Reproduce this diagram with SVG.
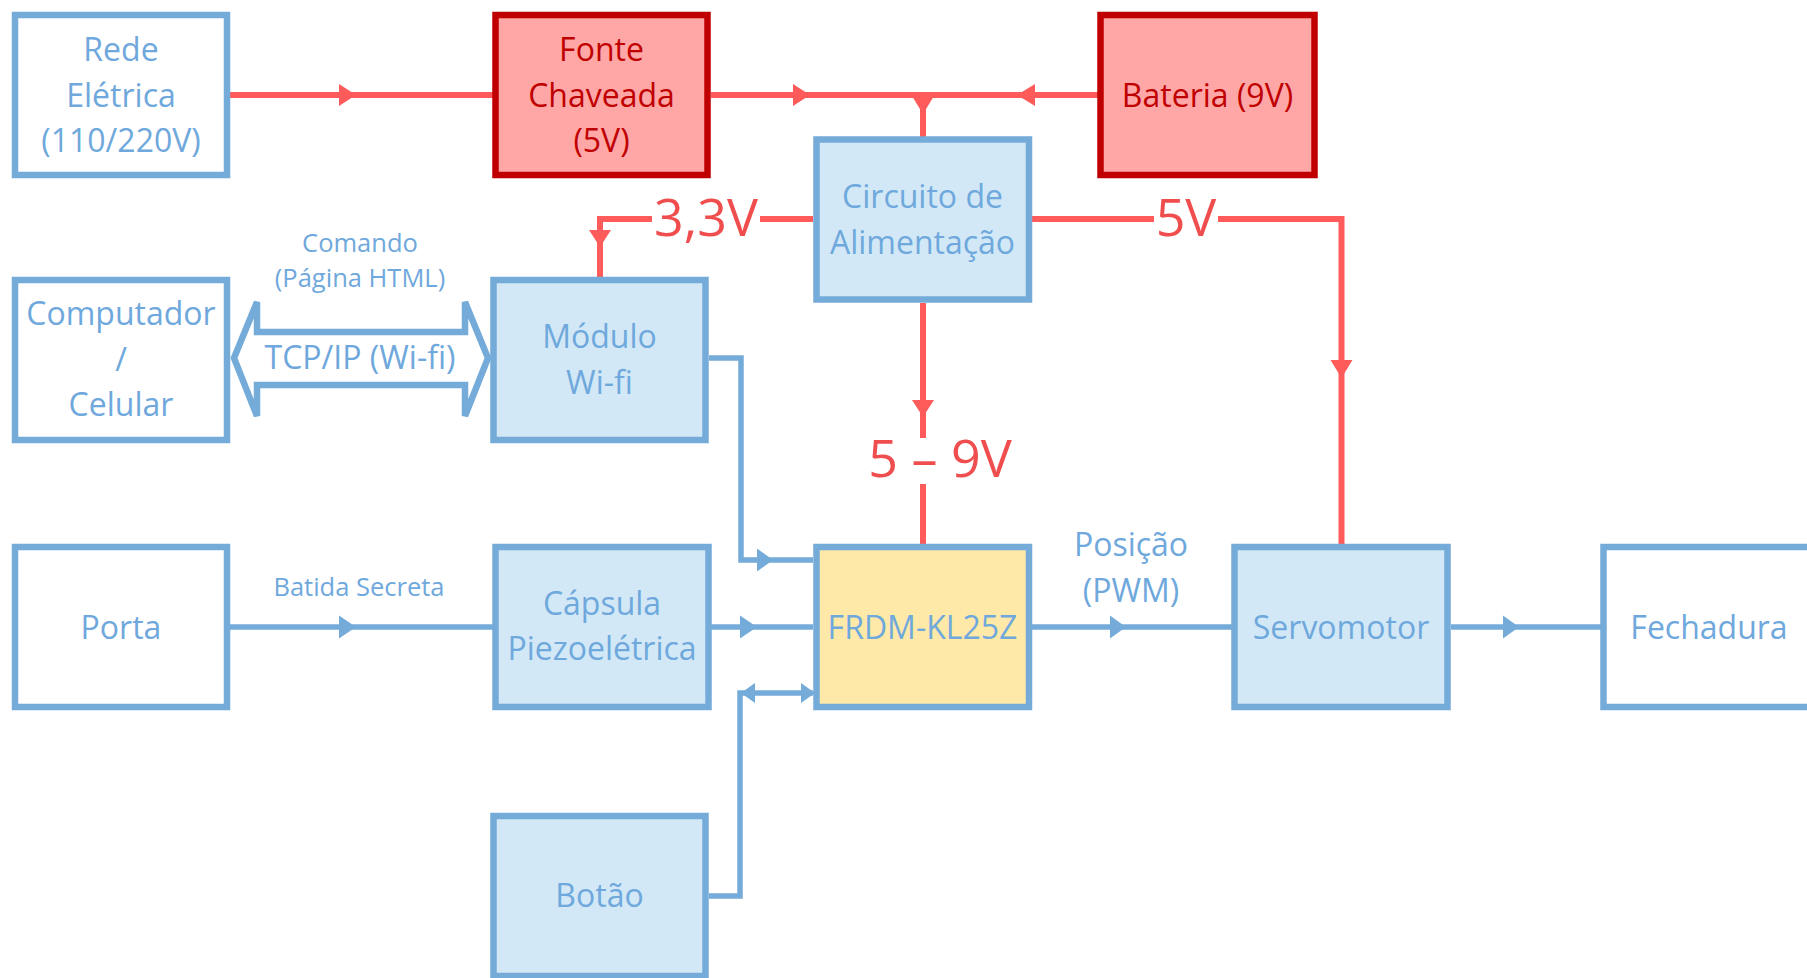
<svg xmlns="http://www.w3.org/2000/svg" width="1807" height="978" viewBox="0 0 1807 978">
<style>
.box{stroke:#75ABD9;stroke-width:6.5}
.w{fill:#FFFFFF}
.lb{fill:#D2E8F6}
.y{fill:#FFE9A8}
.pk{fill:#FFA6A6;stroke:#C00000;stroke-width:6.5}
.t{font-family:"Open Sans","Noto Sans",sans-serif;font-size:32px;fill:#6FA8DC;text-anchor:middle}
.tr{font-family:"Open Sans","Noto Sans",sans-serif;font-size:32px;fill:#C00000;text-anchor:middle}
.s{font-family:"Open Sans","Noto Sans",sans-serif;font-size:25.5px;fill:#6FA8DC;text-anchor:middle}
.v{font-family:"Open Sans","Noto Sans",sans-serif;font-size:52px;fill:#F04E4E;text-anchor:middle}
.rl{fill:none;stroke:#FF5B5B;stroke-width:6}
.bl{fill:none;stroke:#75ABD9;stroke-width:5.5}
.ra{fill:#FF5B5B}
.ba{fill:#75ABD9}
</style>
<g id="connectors">
  <!-- red power lines -->
  <line class="rl" x1="228" y1="95" x2="495" y2="95"/>
  <polygon class="ra" points="339,84 356,95 339,106"/>
  <line class="rl" x1="711" y1="95" x2="1100" y2="95"/>
  <polygon class="ra" points="793,84 810,95 793,106"/>
  <polygon class="ra" points="1035,84 1017,95 1035,106"/>
  <line class="rl" x1="923" y1="95" x2="923" y2="137"/>
  <polygon class="ra" points="912,96 934,96 923,114"/>
  <polyline class="rl" points="813,219 760,219"/>
  <polyline class="rl" points="652,219 600,219 600,277"/>
  <polygon class="ra" points="589,230 611,230 600,247"/>
  <polyline class="rl" points="1032,219 1154,219"/>
  <polyline class="rl" points="1218,219 1341.5,219 1341.5,547"/>
  <polygon class="ra" points="1330.5,360 1352.5,360 1341.5,378"/>
  <line class="rl" x1="923" y1="303" x2="923" y2="438"/>
  <polygon class="ra" points="912,400 934,400 923,417"/>
  <line class="rl" x1="923" y1="484" x2="923" y2="547"/>
  <!-- blue signal lines -->
  <polygon fill="#FFFFFF" stroke="#75ABD9" stroke-width="6.5" stroke-linejoin="miter" points="234,358 257,302 257,332 465,332 465,302 488,358 465,416 465,385 257,385 257,416"/>
  <line class="bl" x1="228" y1="627" x2="495" y2="627"/>
  <polygon class="ba" points="339,615.5 356,627 339,638.5"/>
  <line class="bl" x1="711" y1="627" x2="813" y2="627"/>
  <polygon class="ba" points="740,615.5 757,627 740,638.5"/>
  <polyline class="bl" points="709,358 741,358 741,560 813,560"/>
  <polygon class="ba" points="757,548.5 773,560 757,571.5"/>
  <line class="bl" x1="1032" y1="627" x2="1234" y2="627"/>
  <polygon class="ba" points="1110,615.5 1126,627 1110,638.5"/>
  <line class="bl" x1="1451" y1="627" x2="1603" y2="627"/>
  <polygon class="ba" points="1503,615.5 1519,627 1503,638.5"/>
  <polyline class="bl" points="709,896 740,896 740,693 813,693"/>
  <polygon class="ba" points="755,683 741,693 755,703"/>
  <polygon class="ba" points="801,683 815,693 801,703"/>
</g>
<g id="labels">
  <text class="s" x="360" y="252">Comando</text>
  <text class="s" x="360" y="287">(Página HTML)</text>
  <text class="t" x="360" y="369" font-size="30">TCP/IP (Wi-fi)</text>
  <text class="s" x="359" y="596">Batida Secreta</text>
  <text class="t" x="1131" y="556">Posição</text>
  <text class="t" x="1131" y="601.5">(PWM)</text>
  <text class="v" x="706" y="236">3,3V</text>
  <text class="v" x="1186" y="236">5V</text>
  <text class="v" x="940" y="477">5 – 9V</text>
</g>
<g id="rede">
  <rect class="box w" x="15" y="15" width="212" height="160"/>
  <text class="t" x="121" y="61">Rede</text>
  <text class="t" x="121" y="106.5">Elétrica</text>
  <text class="t" x="121" y="152">(110/220V)</text>
</g>
<g id="fonte">
  <rect class="pk" x="495.5" y="15" width="212" height="160"/>
  <text class="tr" x="601.5" y="61">Fonte</text>
  <text class="tr" x="601.5" y="106.5">Chaveada</text>
  <text class="tr" x="601.5" y="152">(5V)</text>
</g>
<g id="bateria">
  <rect class="pk" x="1100.5" y="15" width="214" height="160"/>
  <text class="tr" x="1207.5" y="106.5">Bateria (9V)</text>
</g>
<g id="circuito">
  <rect class="box lb" x="816.5" y="139.5" width="212.5" height="160"/>
  <text class="t" x="922.5" y="208">Circuito de</text>
  <text class="t" x="922.5" y="253.5">Alimentação</text>
</g>
<g id="computador">
  <rect class="box w" x="15" y="280" width="212" height="160"/>
  <text class="t" x="121" y="325">Computador</text>
  <text class="t" x="121" y="370.5">/</text>
  <text class="t" x="121" y="416">Celular</text>
</g>
<g id="modulo">
  <rect class="box lb" x="493.5" y="280" width="212" height="160"/>
  <text class="t" x="599.5" y="348">Módulo</text>
  <text class="t" x="599.5" y="393.5">Wi-fi</text>
</g>
<g id="porta">
  <rect class="box w" x="15" y="547" width="212" height="160"/>
  <text class="t" x="121" y="638.5">Porta</text>
</g>
<g id="capsula">
  <rect class="box lb" x="495.5" y="547" width="213" height="160"/>
  <text class="t" x="602" y="615">Cápsula</text>
  <text class="t" x="602" y="660">Piezoelétrica</text>
</g>
<g id="frdm">
  <rect class="box y" x="816.5" y="547" width="212.5" height="160"/>
  <text class="t" x="922.5" y="638.5">FRDM-KL25Z</text>
</g>
<g id="servomotor">
  <rect class="box lb" x="1234.5" y="547" width="213" height="160"/>
  <text class="t" x="1341" y="638.5">Servomotor</text>
</g>
<g id="fechadura">
  <rect class="box w" x="1603.5" y="547" width="212" height="160"/>
  <text class="t" x="1709" y="638.5">Fechadura</text>
</g>
<g id="botao">
  <rect class="box lb" x="493.5" y="816" width="212" height="160"/>
  <text class="t" x="599.5" y="907">Botão</text>
</g>
</svg>
